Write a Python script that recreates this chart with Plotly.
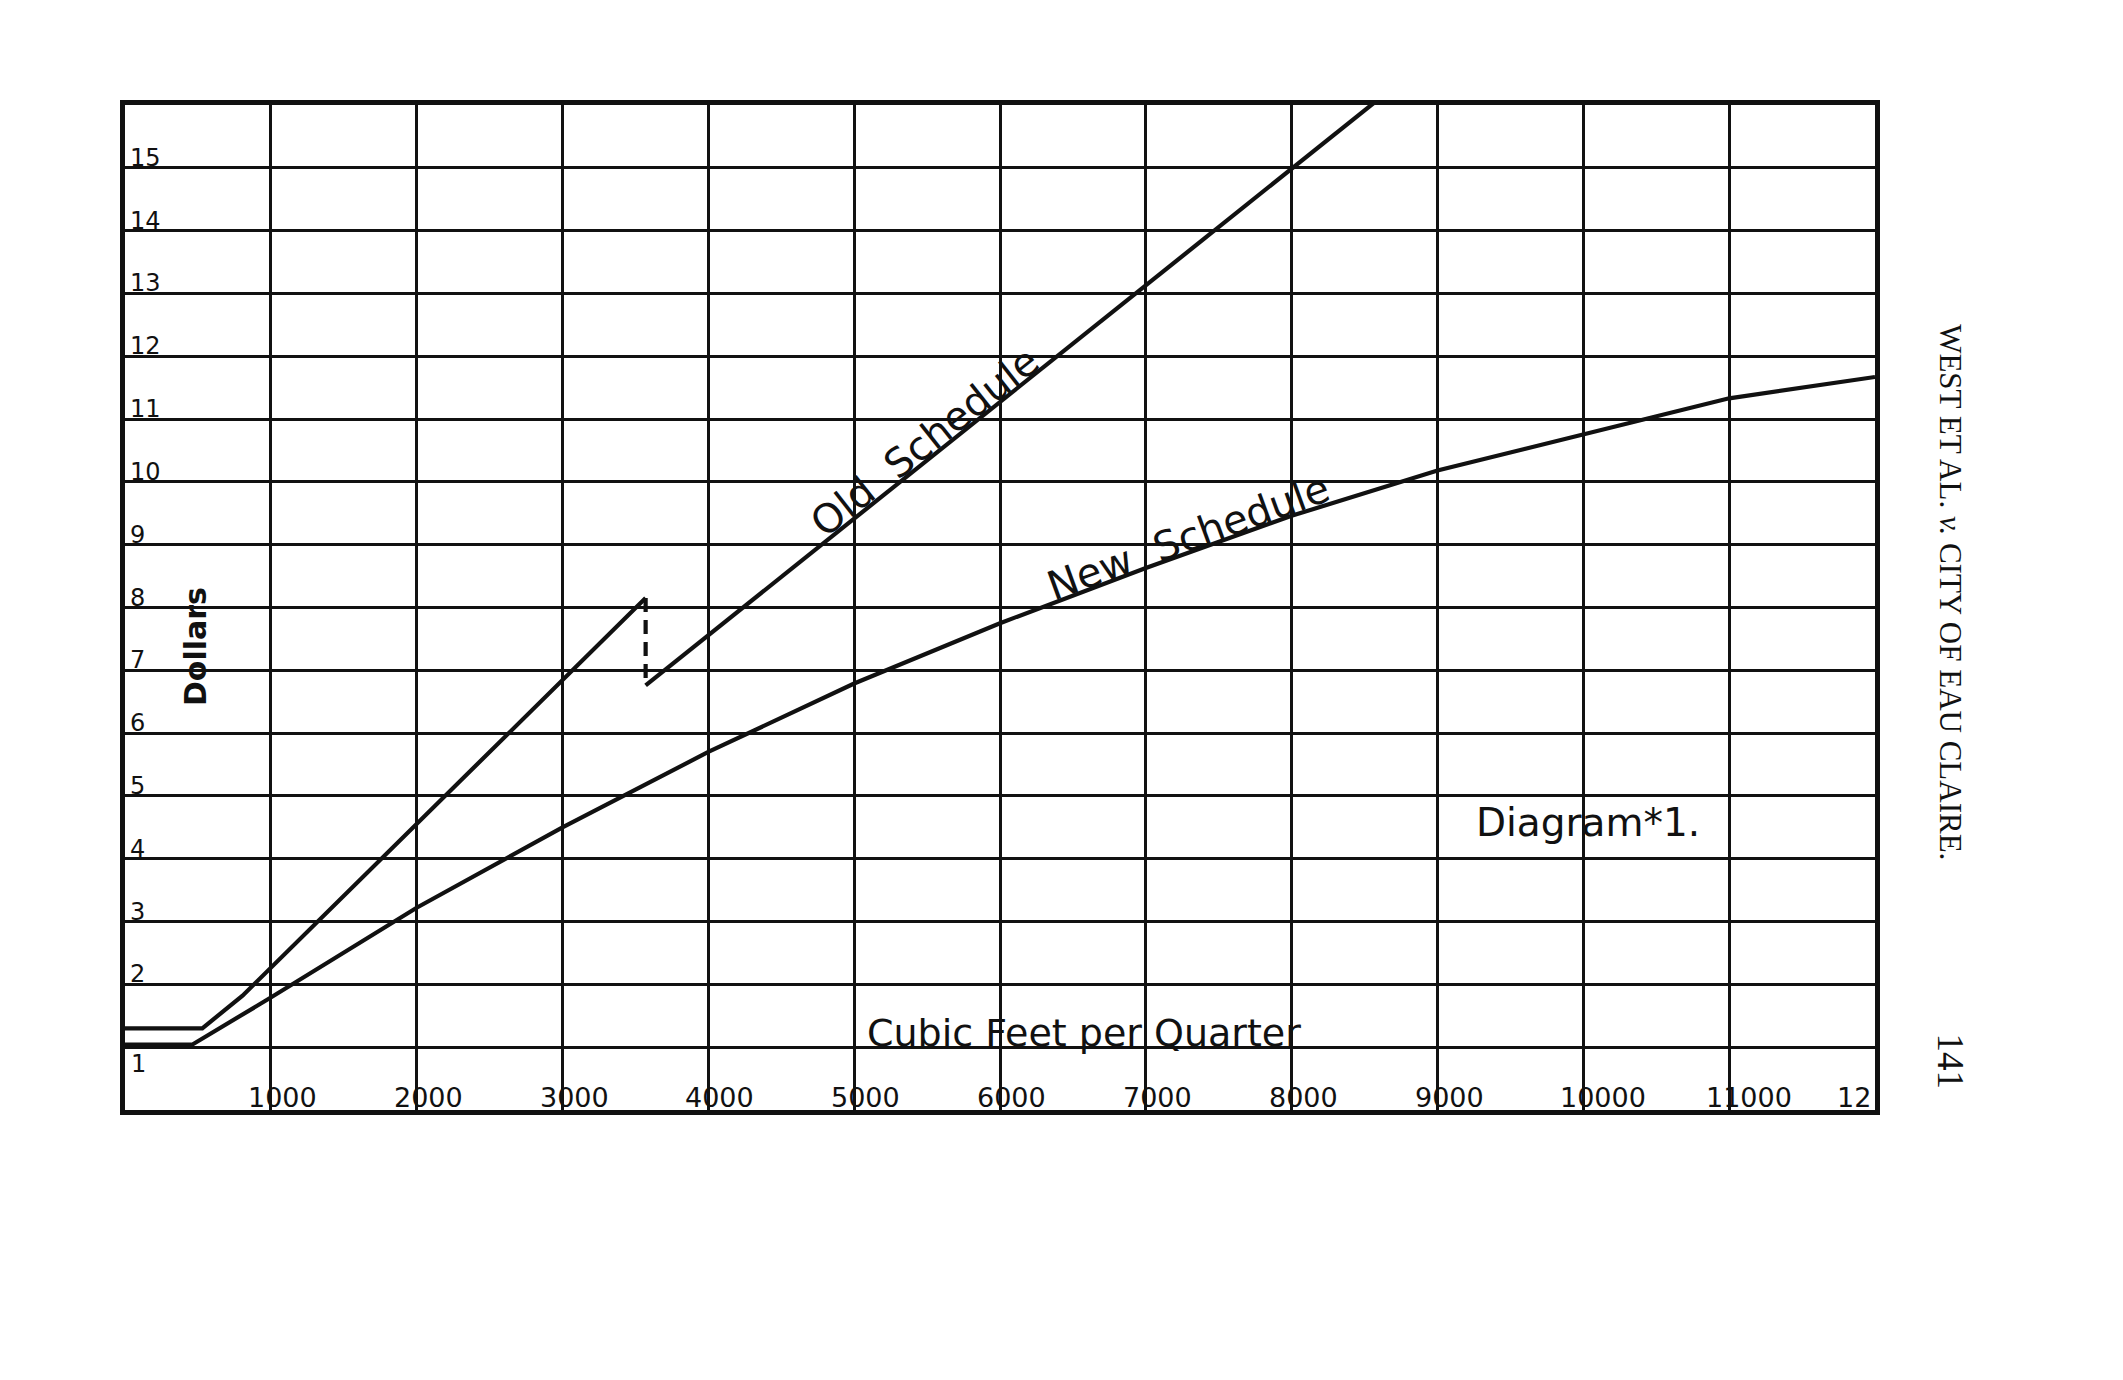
import plotly.graph_objects as go

# ---------------- data ----------------
# Old schedule: lower branch up to the break, then upper branch after the drop
old_low_x = [0, 530, 806, 3570]
old_low_y = [1.30, 1.30, 1.82, 8.15]
old_high_x = [3570, 8000, 8600]
old_high_y = [6.76, 15.0, 16.1]

# New schedule
new_x = [0, 460, 1000, 2000, 3000, 4000, 5000, 6000, 7000, 8000, 9000, 10000, 11000, 12000]
new_y = [1.04, 1.04, 1.79, 3.22, 4.50, 5.70, 6.79, 7.75, 8.63, 9.46, 10.18, 10.76, 11.33, 11.67]

# Tick labels (drawn inside the frame, as on the original drawing)
x_tick_vals = [1000, 2000, 3000, 4000, 5000, 6000, 7000, 8000, 9000, 10000, 11000, 12000]
x_tick_text = ["1000", "2000", "3000", "4000", "5000", "6000", "7000", "8000", "9000",
               "10000", "11000", "12"]
y_tick_vals = [1, 2, 3, 4, 5, 6, 7, 8, 9, 10, 11, 12, 13, 14, 15]
y_tick_text = [str(v) for v in y_tick_vals]

X_RANGE = [0, 12000]
Y_RANGE = [0, 16]

SANS = "DejaVu Sans"
SERIF = "Liberation Serif, DejaVu Serif, serif"
INK = "#111111"
LW = 4.2

fig = go.Figure()

fig.add_trace(go.Scatter(x=old_low_x, y=old_low_y, mode="lines",
                         line=dict(color=INK, width=LW), showlegend=False, hoverinfo="skip"))
fig.add_trace(go.Scatter(x=[old_low_x[-1], old_high_x[0]], y=[old_low_y[-1], old_high_y[0]],
                         mode="lines", line=dict(color=INK, width=LW, dash="14px,8px"),
                         showlegend=False, hoverinfo="skip"))
fig.add_trace(go.Scatter(x=old_high_x, y=old_high_y, mode="lines",
                         line=dict(color=INK, width=LW), showlegend=False, hoverinfo="skip"))
fig.add_trace(go.Scatter(x=new_x, y=new_y, mode="lines",
                         line=dict(color=INK, width=LW), showlegend=False, hoverinfo="skip"))

annotations = []

# y tick labels, sitting on their grid lines just inside the left border
for v, t in zip(y_tick_vals, y_tick_text):
    if v == 1:
        annotations.append(dict(x=0, y=v, xref="x", yref="y", text=t, showarrow=False,
                                xanchor="left", yanchor="top", xshift=4, yshift=-1,
                                font=dict(family=SANS, size=24, color=INK)))
    else:
        annotations.append(dict(x=0, y=v, xref="x", yref="y", text=t, showarrow=False,
                                xanchor="left", yanchor="bottom", xshift=3, yshift=-6,
                                font=dict(family=SANS, size=24, color=INK)))

# x tick labels, sitting on the bottom border
for v, t in zip(x_tick_vals, x_tick_text):
    if v == X_RANGE[1]:
        annotations.append(dict(x=v, y=0, xref="x", yref="y", text=t, showarrow=False,
                                xanchor="right", yanchor="bottom", xshift=-2, yshift=-5,
                                font=dict(family=SANS, size=27, color=INK)))
    else:
        annotations.append(dict(x=v, y=0, xref="x", yref="y", text=t, showarrow=False,
                                xanchor="left", yanchor="bottom", xshift=-25, yshift=-5,
                                font=dict(family=SANS, size=27, color=INK)))

# axis titles and labels
annotations.append(dict(x=6576, y=1, xref="x", yref="y", text="Cubic Feet per Quarter",
                        showarrow=False, xanchor="center", yanchor="bottom", yshift=-10,
                        font=dict(family=SANS, size=38, color=INK)))
annotations.append(dict(x=480, y=7.37, xref="x", yref="y", text="<b>Dollars</b>",
                        showarrow=False, textangle=-90, xanchor="center", yanchor="middle",
                        font=dict(family=SANS, size=30, color=INK)))
annotations.append(dict(x=5480, y=10.64, xref="x", yref="y", text="Old  Schedule",
                        showarrow=False, textangle=-38.4, xanchor="center", yanchor="middle",
                        font=dict(family=SANS, size=40, color=INK)))
annotations.append(dict(x=7290, y=9.12, xref="x", yref="y", text="New  Schedule",
                        showarrow=False, textangle=-20, xanchor="center", yanchor="middle",
                        font=dict(family=SANS, size=40, color=INK)))
annotations.append(dict(x=10030, y=4.58, xref="x", yref="y", text="Diagram*1.",
                        showarrow=False, xanchor="center", yanchor="middle",
                        font=dict(family=SANS, size=39, color=INK)))

# running head printed at the page edge
annotations.append(dict(x=1.043, y=0.515, xref="paper", yref="paper",
                        text="WEST ET AL. <i>v.</i> CITY OF EAU CLAIRE.",
                        showarrow=False, textangle=90, xanchor="center", yanchor="middle",
                        font=dict(family=SERIF, size=31, color=INK)))
annotations.append(dict(x=1.043, y=0.048, xref="paper", yref="paper", text="141",
                        showarrow=False, textangle=90, xanchor="center", yanchor="middle",
                        font=dict(family=SERIF, size=37, color=INK)))

axis_common = dict(showgrid=True, gridcolor=INK, gridwidth=2.8, showline=True, linecolor=INK,
                   linewidth=4.5, mirror=True, showticklabels=False, zeroline=False, ticks="")

fig.update_layout(
    width=2123, height=1380, autosize=False,
    margin=dict(l=125, r=248, t=105, b=270, pad=0),
    paper_bgcolor="white", plot_bgcolor="white",
    xaxis=dict(range=X_RANGE, dtick=1000, tick0=0, **axis_common),
    yaxis=dict(range=Y_RANGE, dtick=1, tick0=0, **axis_common),
    annotations=annotations,
    showlegend=False,
)

fig.write_html("out.html", config={"displayModeBar": False},
               post_script="document.body.style.margin='0';document.body.style.overflow='hidden';")
